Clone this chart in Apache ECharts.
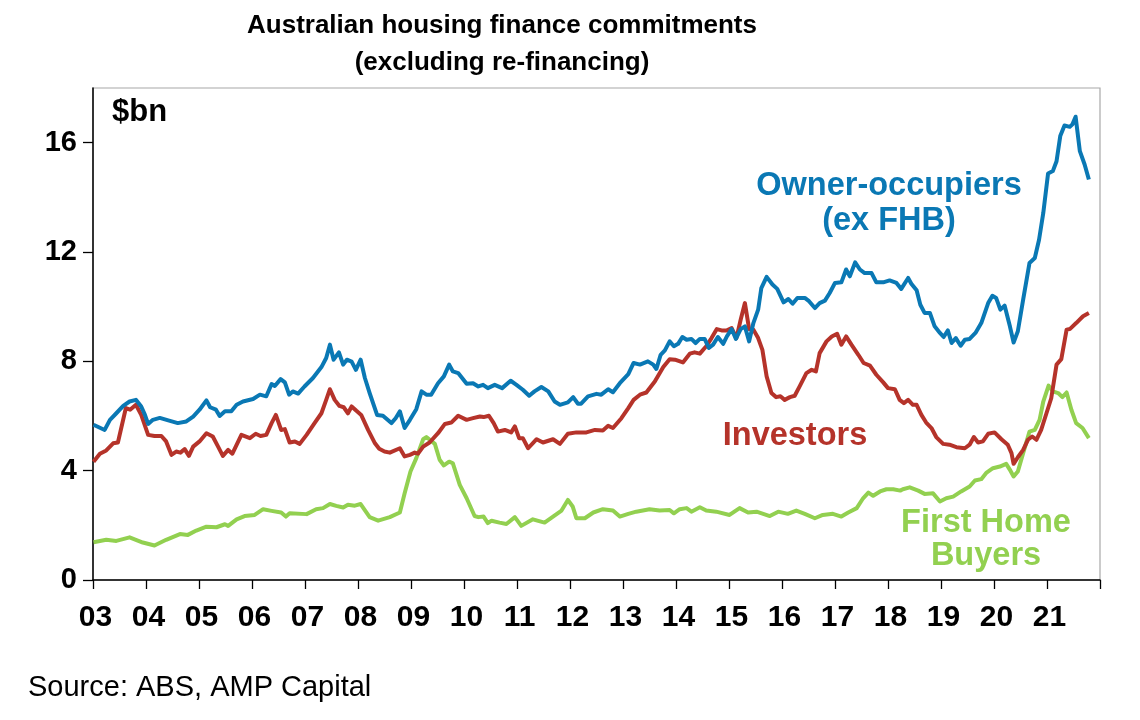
<!DOCTYPE html>
<html>
<head>
<meta charset="utf-8">
<title>Australian housing finance commitments</title>
<script src="https://cdn.jsdelivr.net/npm/echarts@6/dist/echarts.min.js"></script>
<style>
  html, body { margin: 0; padding: 0; background: #fff; }
  #chart { width: 1140px; height: 720px; }
</style>
</head>
<body>
<div id="chart"></div>
<script type="text/javascript">
// values: [year as decimal, $bn]
var ownerOccupiers = [
  [2003.01,5.68],[2003.22,5.49],[2003.32,5.86],[2003.44,6.10],[2003.57,6.37],[2003.69,6.53],[2003.81,6.59],
  [2003.91,6.35],[2003.98,6.04],[2004.04,5.71],[2004.13,5.86],[2004.26,5.93],[2004.42,5.84],[2004.60,5.74],
  [2004.76,5.80],[2004.89,5.98],[2005.01,6.23],[2005.14,6.57],[2005.21,6.32],[2005.32,6.23],[2005.39,6.00],
  [2005.49,6.17],[2005.61,6.17],[2005.71,6.41],[2005.83,6.53],[2006.02,6.62],[2006.15,6.78],[2006.27,6.72],
  [2006.37,7.17],[2006.43,7.10],[2006.54,7.35],[2006.62,7.23],[2006.70,6.78],[2006.77,6.90],[2006.87,6.82],
  [2006.99,7.08],[2007.15,7.39],[2007.31,7.79],[2007.40,8.12],[2007.47,8.61],[2007.54,8.06],[2007.64,8.33],
  [2007.72,7.88],[2007.79,8.06],[2007.88,7.99],[2007.96,7.69],[2008.05,8.06],[2008.13,7.39],[2008.22,6.84],
  [2008.36,6.04],[2008.47,6.01],[2008.63,5.74],[2008.71,5.92],[2008.79,6.17],[2008.88,5.56],[2008.98,5.86],
  [2009.10,6.25],[2009.20,6.90],[2009.29,6.78],[2009.38,6.78],[2009.51,7.20],[2009.62,7.45],[2009.72,7.88],
  [2009.79,7.63],[2009.89,7.57],[2010.05,7.18],[2010.17,7.20],[2010.27,7.08],[2010.36,7.14],[2010.45,7.02],
  [2010.58,7.14],[2010.72,7.02],[2010.88,7.29],[2010.99,7.14],[2011.11,6.96],[2011.23,6.74],[2011.33,6.90],
  [2011.46,7.06],[2011.59,6.90],[2011.71,6.53],[2011.81,6.41],[2011.96,6.50],[2012.06,6.69],[2012.15,6.45],
  [2012.21,6.45],[2012.34,6.72],[2012.50,6.81],[2012.59,6.78],[2012.72,6.98],[2012.81,6.87],[2012.94,7.20],
  [2013.10,7.53],[2013.20,7.94],[2013.32,7.88],[2013.47,8.00],[2013.57,7.88],[2013.63,7.72],[2013.71,8.24],
  [2013.79,8.40],[2013.88,8.73],[2013.96,8.55],[2014.04,8.64],[2014.12,8.89],[2014.20,8.79],[2014.29,8.82],
  [2014.37,8.67],[2014.45,8.82],[2014.54,8.82],[2014.62,8.49],[2014.70,8.61],[2014.79,8.89],[2014.89,8.64],
  [2014.96,8.91],[2015.05,9.18],[2015.13,8.82],[2015.22,9.18],[2015.30,9.28],[2015.38,8.73],[2015.46,9.40],
  [2015.55,9.89],[2015.61,10.68],[2015.71,11.09],[2015.82,10.81],[2015.91,10.65],[2016.03,10.16],[2016.12,10.28],
  [2016.20,10.11],[2016.29,10.32],[2016.43,10.32],[2016.51,10.20],[2016.62,9.95],[2016.71,10.13],[2016.81,10.22],
  [2016.90,10.50],[2017.00,10.87],[2017.12,10.89],[2017.21,11.36],[2017.28,11.11],[2017.38,11.62],[2017.47,11.36],
  [2017.56,11.23],[2017.69,11.23],[2017.78,10.89],[2017.91,10.89],[2018.03,10.96],[2018.16,10.87],[2018.25,10.65],
  [2018.38,11.05],[2018.44,10.84],[2018.54,10.60],[2018.61,10.07],[2018.69,9.77],[2018.79,9.77],[2018.88,9.28],
  [2018.98,9.04],[2019.05,8.89],[2019.13,9.13],[2019.20,8.67],[2019.28,8.85],[2019.37,8.57],[2019.45,8.79],
  [2019.54,8.82],[2019.65,9.04],[2019.76,9.40],[2019.89,10.13],[2019.97,10.40],[2020.04,10.32],[2020.12,9.89],
  [2020.20,10.04],[2020.30,9.28],[2020.37,8.69],[2020.45,9.10],[2020.55,10.26],[2020.67,11.60],[2020.77,11.78],
  [2020.85,12.45],[2020.93,13.43],[2021.02,14.87],[2021.11,14.96],[2021.18,15.32],[2021.25,16.24],[2021.33,16.63],
  [2021.43,16.58],[2021.48,16.67],[2021.54,16.95],[2021.62,15.69],[2021.71,15.20],[2021.79,14.65]
];

var investors = [
  [2003.01,4.33],[2003.13,4.62],[2003.25,4.74],[2003.38,5.00],[2003.47,5.03],[2003.62,6.29],[2003.70,6.23],
  [2003.81,6.41],[2003.91,6.04],[2004.04,5.31],[2004.16,5.27],[2004.29,5.27],[2004.38,5.07],[2004.48,4.58],
  [2004.57,4.70],[2004.65,4.66],[2004.73,4.79],[2004.81,4.54],[2004.89,4.88],[2005.01,5.07],[2005.14,5.37],
  [2005.26,5.25],[2005.36,4.88],[2005.45,4.54],[2005.55,4.76],[2005.63,4.62],[2005.80,5.31],[2005.96,5.19],
  [2006.07,5.35],[2006.16,5.27],[2006.27,5.31],[2006.37,5.74],[2006.45,6.04],[2006.55,5.49],[2006.62,5.52],
  [2006.71,5.03],[2006.81,5.07],[2006.90,4.98],[2007.03,5.31],[2007.18,5.74],[2007.31,6.10],[2007.40,6.59],
  [2007.47,6.98],[2007.56,6.59],[2007.65,6.37],[2007.73,6.32],[2007.81,6.10],[2007.88,6.35],[2007.97,6.19],
  [2008.06,6.04],[2008.19,5.49],[2008.32,5.00],[2008.40,4.80],[2008.50,4.70],[2008.60,4.66],[2008.79,4.82],
  [2008.88,4.52],[2008.98,4.58],[2009.07,4.66],[2009.13,4.62],[2009.23,4.88],[2009.35,5.03],[2009.51,5.37],
  [2009.64,5.71],[2009.76,5.76],[2009.89,6.01],[2010.05,5.86],[2010.17,5.92],[2010.30,5.98],[2010.37,5.96],
  [2010.47,6.01],[2010.56,5.74],[2010.64,5.43],[2010.77,5.49],[2010.89,5.40],[2010.96,5.62],[2011.04,5.19],
  [2011.11,5.19],[2011.21,4.82],[2011.37,5.15],[2011.49,5.03],[2011.68,5.15],[2011.81,4.98],[2011.96,5.35],
  [2012.12,5.40],[2012.31,5.40],[2012.47,5.49],[2012.62,5.47],[2012.72,5.64],[2012.81,5.56],[2012.97,5.92],
  [2013.10,6.29],[2013.20,6.59],[2013.32,6.78],[2013.44,6.86],[2013.60,7.26],[2013.76,7.79],[2013.88,8.08],
  [2013.98,8.06],[2014.13,7.96],[2014.26,8.28],[2014.35,8.33],[2014.45,8.28],[2014.57,8.55],[2014.67,8.85],
  [2014.77,9.18],[2014.86,9.13],[2014.95,9.13],[2015.05,9.22],[2015.14,8.85],[2015.22,9.52],[2015.30,10.13],
  [2015.38,9.18],[2015.46,9.16],[2015.55,8.85],[2015.63,8.42],[2015.71,7.45],[2015.80,6.84],[2015.89,6.69],
  [2015.97,6.72],[2016.05,6.59],[2016.15,6.69],[2016.24,6.74],[2016.34,7.11],[2016.46,7.57],[2016.56,7.69],
  [2016.64,7.63],[2016.71,8.30],[2016.84,8.73],[2016.94,8.91],[2017.04,9.01],[2017.12,8.61],[2017.21,8.91],
  [2017.31,8.61],[2017.44,8.24],[2017.54,7.94],[2017.66,7.84],[2017.78,7.51],[2017.91,7.23],[2018.00,7.02],
  [2018.13,6.98],[2018.22,6.59],[2018.30,6.47],[2018.38,6.59],[2018.47,6.41],[2018.54,6.41],[2018.63,6.04],
  [2018.72,5.76],[2018.82,5.56],[2018.91,5.23],[2019.04,4.98],[2019.16,4.95],[2019.29,4.86],[2019.45,4.82],
  [2019.54,4.95],[2019.62,5.23],[2019.70,5.03],[2019.79,5.07],[2019.89,5.35],[2020.01,5.40],[2020.14,5.15],
  [2020.26,4.95],[2020.33,4.64],[2020.37,4.25],[2020.45,4.49],[2020.55,4.76],[2020.64,5.13],[2020.72,5.25],
  [2020.80,5.13],[2020.89,5.49],[2020.99,6.10],[2021.08,6.65],[2021.18,7.88],[2021.27,8.08],[2021.37,9.16],
  [2021.43,9.18],[2021.55,9.40],[2021.68,9.65],[2021.79,9.77]
];

var firstHomeBuyers = [
  [2003.01,1.38],[2003.25,1.47],[2003.44,1.43],[2003.69,1.56],[2003.94,1.37],[2004.16,1.26],[2004.38,1.47],
  [2004.64,1.68],[2004.79,1.65],[2004.95,1.81],[2005.14,1.95],[2005.33,1.93],[2005.49,2.04],[2005.55,1.98],
  [2005.71,2.22],[2005.86,2.34],[2006.05,2.38],[2006.21,2.59],[2006.37,2.53],[2006.55,2.47],[2006.64,2.32],
  [2006.71,2.44],[2007.03,2.41],[2007.21,2.59],[2007.34,2.63],[2007.47,2.78],[2007.59,2.71],[2007.72,2.65],
  [2007.81,2.75],[2007.94,2.72],[2008.05,2.78],[2008.22,2.30],[2008.38,2.17],[2008.60,2.30],[2008.79,2.47],
  [2008.88,3.17],[2008.99,3.97],[2009.10,4.46],[2009.23,5.15],[2009.29,5.23],[2009.45,4.98],[2009.54,4.40],
  [2009.62,4.19],[2009.72,4.33],[2009.79,4.27],[2009.92,3.48],[2010.05,2.99],[2010.20,2.34],[2010.27,2.30],
  [2010.37,2.32],[2010.45,2.08],[2010.52,2.17],[2010.67,2.10],[2010.80,2.05],[2010.96,2.30],[2011.08,1.98],
  [2011.30,2.22],[2011.52,2.10],[2011.68,2.32],[2011.84,2.54],[2011.96,2.93],[2012.05,2.69],[2012.12,2.26],
  [2012.28,2.26],[2012.44,2.47],[2012.62,2.59],[2012.81,2.54],[2012.94,2.32],[2013.10,2.42],[2013.25,2.50],
  [2013.50,2.59],[2013.69,2.54],[2013.88,2.56],[2013.96,2.44],[2014.07,2.59],[2014.20,2.63],[2014.29,2.50],
  [2014.45,2.66],[2014.57,2.54],[2014.76,2.50],[2015.01,2.38],[2015.20,2.63],[2015.36,2.47],[2015.52,2.50],
  [2015.77,2.34],[2015.93,2.50],[2016.11,2.42],[2016.27,2.54],[2016.43,2.42],[2016.62,2.26],[2016.77,2.38],
  [2016.96,2.42],[2017.12,2.32],[2017.25,2.47],[2017.41,2.63],[2017.53,2.99],[2017.63,3.20],[2017.72,3.08],
  [2017.85,3.24],[2017.97,3.32],[2018.10,3.32],[2018.23,3.27],[2018.28,3.32],[2018.41,3.39],[2018.57,3.27],
  [2018.69,3.15],[2018.85,3.17],[2018.98,2.87],[2019.10,2.99],[2019.23,3.05],[2019.38,3.24],[2019.54,3.42],
  [2019.64,3.64],[2019.76,3.69],[2019.86,3.93],[2019.98,4.09],[2020.11,4.15],[2020.23,4.25],[2020.31,4.00],
  [2020.37,3.79],[2020.45,3.97],[2020.55,4.64],[2020.67,5.43],[2020.77,5.49],[2020.86,5.86],[2020.93,6.53],
  [2021.03,7.11],[2021.11,6.90],[2021.21,6.84],[2021.29,6.69],[2021.37,6.86],[2021.46,6.23],[2021.55,5.74],
  [2021.67,5.56],[2021.79,5.19]
];

var xTickYears = [2003,2004,2005,2006,2007,2008,2009,2010,2011,2012,2013,2014,2015,2016,2017,2018,2019,2020,2021,2022];
var xLabels = ['03','04','05','06','07','08','09','10','11','12','13','14','15','16','17','18','19','20','21'];
var yTicks = [0,4,8,12,16];

var BLUE = '#0a78b4', RED = '#b5332a', GREEN = '#92d050';
var FONT = '"Liberation Sans", Arial, sans-serif';

function lineSeries(name, data, color){
	return {
		name: name,
		type: 'line',
		data: data,
		showSymbol: false,
		symbol: 'none',
		smooth: false,
		lineStyle: { color: color, width: 4, join: 'round' },
		z: name == 'Owner-occupiers' ? 4 : 3,
		animation: false
	};
}

function txt(str, x, y, size, color, align, weight){
	return {
		type: 'text', x: x, y: y, z: 20,
		style: {
			text: str, fill: color, font: (weight || 'bold') + ' ' + size + 'px ' + FONT,
			textAlign: align || 'center', textVerticalAlign: 'middle'
		}
	};
}

var myChart = echarts.init(document.getElementById('chart'), null, { renderer: 'canvas' });
var option = {
	backgroundColor: '#fff',
	animation: false,
	grid: {
		left: 93, right: 40, top: 88, bottom: 140,
		show: true, borderColor: '#a8a8a8', borderWidth: 1.2, backgroundColor: 'transparent'
	},
	xAxis: {
		type: 'value', min: 2003, max: 2022, interval: 1,
		axisLine: { show: true, lineStyle: { color: '#000', width: 1.5 } },
		axisTick: { show: true, inside: false, length: 9, customValues: xTickYears, lineStyle: { color: '#000', width: 1.3 } },
		axisLabel: {
			customValues: xTickYears.slice(0, xLabels.length),
			formatter: function (v) { return xLabels[Math.round(v) - 2003] || ''; },
			color: '#000', fontSize: 30, fontWeight: 'bold', fontFamily: FONT, margin: 23,
			padding: [0, 0, 0, 5]
		},
		splitLine: { show: false }
	},
	yAxis: {
		type: 'value', min: 0, max: 18, interval: 4,
		axisLine: { show: true, lineStyle: { color: '#000', width: 1.5 } },
		axisTick: { show: true, inside: false, length: 10, customValues: yTicks, lineStyle: { color: '#000', width: 1.3 } },
		axisLabel: {
			customValues: yTicks,
			color: '#000', fontSize: 29, fontWeight: 'bold', fontFamily: FONT, margin: 16
		},
		splitLine: { show: false }
	},
	series: [
		lineSeries('First Home Buyers', firstHomeBuyers, GREEN),
		lineSeries('Investors', investors, RED),
		lineSeries('Owner-occupiers', ownerOccupiers, BLUE)
	],
	graphic: [
		txt('Australian housing finance commitments', 502, 26, 26, '#000'),
		txt('(excluding re-financing)', 502, 63, 26, '#000'),
		txt('$bn', 112, 112, 31, '#000', 'left'),
		txt('Owner-occupiers', 889, 186, 32.5, BLUE),
		txt('(ex FHB)', 889, 221, 32.5, BLUE),
		txt('Investors', 795, 436, 32.5, RED),
		txt('First Home', 986, 523, 32.5, GREEN),
		txt('Buyers', 986, 556, 32.5, GREEN),
		txt('Source: ABS, AMP Capital', 28, 688, 29, '#000', 'left', 'normal')
	]
};
myChart.setOption(option);
</script>
</body>
</html>
